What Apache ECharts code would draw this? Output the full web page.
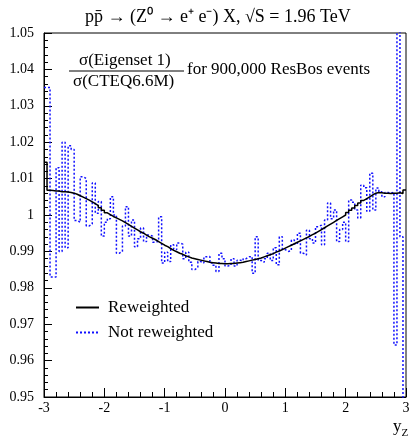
<!DOCTYPE html>
<html>
<head>
<meta charset="utf-8">
<script src="https://cdn.jsdelivr.net/npm/echarts@6/dist/echarts.min.js"></script>
<style>
  html, body { margin: 0; padding: 0; background: #fff; }
  #chart { width: 413px; height: 437px; }
</style>
</head>
<body>
<div id="chart"></div>
<script>
// histogram binning in y_Z
var binStart = -3
var binWidth = 0.05

// ratio with reweighting (black solid)
var reweighted = [
  1.0145, 1.0068, 1.0067, 1.0066, 1.0066, 1.0064, 1.0064, 1.0063, 1.0062, 1.0060,
  1.0057, 1.0053, 1.0049, 1.0045, 1.0041, 1.0036, 1.0031, 1.0026, 1.0020, 1.0013,
  1.0006, 1.0001, 0.9996, 0.9992, 0.9988, 0.9984, 0.9979, 0.9974, 0.9969, 0.9964,
  0.9959, 0.9954, 0.9950, 0.9945, 0.9940, 0.9936, 0.9932, 0.9927, 0.9922, 0.9917,
  0.9913, 0.9908, 0.9903, 0.9899, 0.9895, 0.9892, 0.9888, 0.9885, 0.9882, 0.9880,
  0.9878, 0.9876, 0.9874, 0.9872, 0.9870, 0.9869, 0.9868, 0.9867, 0.9867, 0.9866,
  0.9866, 0.9867, 0.9867, 0.9868, 0.9869, 0.9870, 0.9872, 0.9874, 0.9876, 0.9878,
  0.9880, 0.9882, 0.9885, 0.9888, 0.9891, 0.9894, 0.9898, 0.9901, 0.9905, 0.9909,
  0.9913, 0.9917, 0.9921, 0.9925, 0.9929, 0.9933, 0.9937, 0.9941, 0.9946, 0.9950,
  0.9955, 0.9960, 0.9965, 0.9970, 0.9975, 0.9980, 0.9985, 0.9990, 0.9995, 1.0000,
  1.0007, 1.0013, 1.0019, 1.0026, 1.0033, 1.0040, 1.0045, 1.0050, 1.0055, 1.0060,
  1.0062, 1.0061, 1.0060, 1.0060, 1.0059, 1.0060, 1.0060, 1.0061, 1.0059, 1.0069
]

// ratio without reweighting (blue dotted)
var notReweighted = [
  1.0350, 1.0350, 0.9830, 0.9830, 1.0130, 0.9900, 1.0200, 0.9910, 1.0190, 1.0180,
  0.9985, 0.9980, 1.0105, 1.0100, 0.9970, 0.9975, 1.0088, 1.0005, 1.0037, 0.9942,
  0.9980, 0.9990, 1.0050, 1.0000, 0.9895, 0.9900, 0.9970, 1.0023, 0.9942, 0.9986,
  0.9913, 0.9935, 0.9964, 0.9927, 0.9945, 0.9942, 0.9925, 0.9928, 0.9995, 0.9868,
  0.9898, 0.9872, 0.9918, 0.9905, 0.9923, 0.9920, 0.9880, 0.9898, 0.9870, 0.9850,
  0.9855, 0.9872, 0.9868, 0.9885, 0.9886, 0.9868, 0.9862, 0.9845, 0.9895, 0.9880,
  0.9860, 0.9862, 0.9880, 0.9860, 0.9876, 0.9874, 0.9880, 0.9885, 0.9886, 0.9840,
  0.9940, 0.9875, 0.9870, 0.9880, 0.9895, 0.9875, 0.9910, 0.9863, 0.9940, 0.9905,
  0.9900, 0.9902, 0.9931, 0.9920, 0.9950, 0.9895, 0.9890, 0.9958, 0.9935, 0.9923,
  0.9968, 0.9972, 0.9918, 0.9986, 1.0033, 0.9990, 1.0014, 0.9927, 0.9960, 0.9980,
  0.9927, 1.0041, 1.0035, 1.0014, 0.9992, 1.0082, 1.0075, 1.0010, 1.0115, 1.0014,
  1.0074, 1.0064, 1.0050, 1.0062, 1.0060, 1.0062, 0.9643, 1.0600, 0.9940, 0.9400
]

var seriesNames = ['Reweighted', 'Not reweighted']
var serif = 'Liberation Serif'

// each bin -> [left edge, value], plus a closing point at the right edge
function toSteps(vals) {
  var pts = vals.map(function (v, i) {
    return [+(binStart + i * binWidth).toFixed(3), v]
  })
  pts.push([+(binStart + vals.length * binWidth).toFixed(3), vals[vals.length - 1]])
  return pts
}

var chart = echarts.init(document.getElementById('chart'))

var option = {
  backgroundColor: '#fff',
  animation: false,
  title: {
    text: 'pp\u0304 \u2192 (Z\u2070 \u2192 e\u207A e\u207B) X, \u221AS = 1.96 TeV',
    left: 80,
    top: 3,
    textStyle: { fontFamily: serif, fontSize: 18, fontWeight: 'normal', color: '#000' }
  },
  legend: {
    data: seriesNames,
    orient: 'vertical',
    left: 75,
    top: 299,
    padding: 0,
    itemWidth: 23,
    itemHeight: 14,
    itemGap: 8,
    itemStyle: { opacity: 0 },
    textStyle: { fontFamily: serif, fontSize: 17, color: '#000', padding: [0, 0, 0, 4] }
  },
  grid: {
    left: 44,
    right: 7,
    top: 33,
    bottom: 40,
    show: true,
    borderColor: '#000',
    borderWidth: 1
  },
  xAxis: {
    type: 'value',
    min: -3,
    max: 3,
    interval: 1,
    axisLine: { onZero: false, lineStyle: { color: '#000', width: 1 } },
    axisTick: { inside: true, length: 9, lineStyle: { color: '#000' } },
    minorTick: { show: true, splitNumber: 5, length: 5, lineStyle: { color: '#000' } },
    splitLine: { show: false },
    axisLabel: { margin: 4, fontFamily: serif, fontSize: 14, color: '#000' }
  },
  yAxis: {
    type: 'value',
    min: 0.95,
    max: 1.05,
    interval: 0.01,
    axisLine: { onZero: false, lineStyle: { color: '#000', width: 1 } },
    axisTick: { inside: true, length: 8, lineStyle: { color: '#000' } },
    minorTick: { show: true, splitNumber: 5, length: 4, lineStyle: { color: '#000' } },
    splitLine: { show: false },
    axisLabel: {
      margin: 10,
      fontFamily: serif,
      fontSize: 14,
      color: '#000',
      formatter: function (v) { return String(parseFloat(v.toFixed(2))) }
    }
  },
  graphic: [
    {
      type: 'text', left: 79, top: 52,
      style: { text: '\u03C3(Eigenset 1)', font: '17px "Liberation Serif"', fill: '#000' }
    },
    {
      type: 'line',
      shape: { x1: 69, y1: 71, x2: 184, y2: 71 },
      style: { stroke: '#000', lineWidth: 1 }
    },
    {
      type: 'text', left: 73, top: 73,
      style: { text: '\u03C3(CTEQ6.6M)', font: '17px "Liberation Serif"', fill: '#000' }
    },
    {
      type: 'text', left: 187, top: 61,
      style: { text: 'for 900,000 ResBos events', font: '17px "Liberation Serif"', fill: '#000' }
    },
    {
      type: 'text', left: 393, top: 418,
      style: {
        text: '{y|y}{z|Z}',
        rich: {
          y: { fontFamily: serif, fontSize: 17, fill: '#000', verticalAlign: 'top' },
          z: { fontFamily: serif, fontSize: 11, fill: '#000', padding: [10, 0, 0, 0] }
        }
      }
    }
  ],
  series: [
    {
      name: seriesNames[0],
      type: 'line',
      step: 'end',
      symbol: 'none',
      data: toSteps(reweighted),
      lineStyle: { color: '#000', width: 1.5 },
      itemStyle: { color: '#000' },
      z: 3
    },
    {
      name: seriesNames[1],
      type: 'line',
      step: 'end',
      symbol: 'none',
      data: toSteps(notReweighted),
      lineStyle: { color: '#1010ff', width: 1.5, type: [2, 2] },
      itemStyle: { color: '#1010ff' },
      z: 2
    }
  ]
}

chart.setOption(option)
</script>
</body>
</html>
